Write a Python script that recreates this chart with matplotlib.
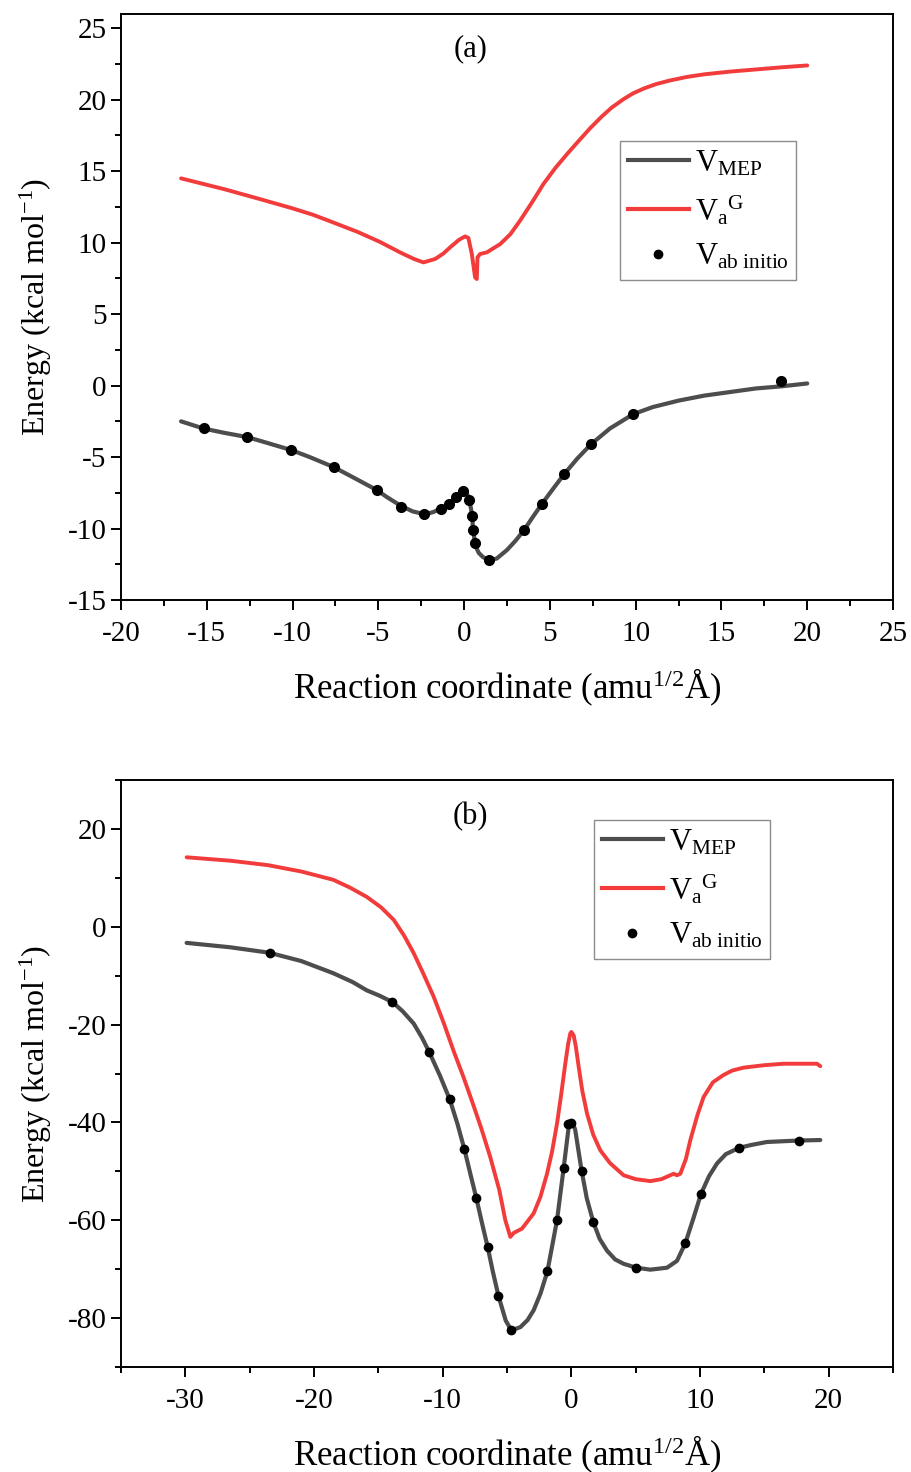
import matplotlib
matplotlib.use("Agg")
import matplotlib.pyplot as plt
from matplotlib.ticker import MultipleLocator
from matplotlib.lines import Line2D

plt.rcParams["font.family"] = ["Liberation Serif", "DejaVu Serif"]
plt.rcParams["mathtext.fontset"] = "custom"
plt.rcParams["mathtext.rm"] = "Liberation Serif"
plt.rcParams["mathtext.it"] = "Liberation Serif:italic"
plt.rcParams["mathtext.bf"] = "Liberation Serif:bold"
plt.rcParams["axes.unicode_minus"] = False

# ---------------- panel (a) ----------------
a_mep_s = [-16.5, -15.2, -14.0, -12.65, -11.5, -10.1, -9.0, -7.6, -6.5, -5.1,
           -4.5, -3.7, -3.0, -2.3, -1.8, -1.35, -0.87, -0.47, -0.2, 0.0,
           0.15, 0.3, 0.4, 0.47, 0.52, 0.6, 0.7, 0.85, 1.1, 1.46,
           1.9, 2.5, 3.0, 3.5, 4.0, 4.55, 5.2, 5.83, 6.6, 7.4,
           8.5, 9.85, 11.0, 12.5, 14.0, 15.5, 17.0, 18.5, 20.0]
a_mep_e = [-2.5, -3.0, -3.3, -3.6, -4.0, -4.5, -5.0, -5.7, -6.4, -7.3,
           -7.8, -8.4, -8.8, -9.0, -8.85, -8.6, -8.25, -7.8, -7.45, -7.4,
           -7.5, -8.0, -8.6, -9.1, -10.1, -10.7, -11.3, -11.7, -12.0, -12.2,
           -12.1, -11.5, -10.85, -10.1, -9.2, -8.25, -7.2, -6.2, -5.1, -4.1,
           -3.0, -2.0, -1.5, -1.05, -0.7, -0.45, -0.2, -0.05, 0.15]

a_vag_s = [-16.5, -14.0, -11.9, -10.0, -8.8, -7.6, -6.2, -4.9, -3.7, -2.9,
           -2.37, -1.69, -1.2, -0.82, -0.3, 0.06, 0.25, 0.45, 0.64, 0.74,
           0.78, 0.93, 1.32, 2.1, 2.7, 3.26, 4.0, 4.62, 5.3, 6.0,
           6.7, 7.34, 8.0, 8.6, 9.3, 9.85, 10.5, 11.2, 12.0, 13.0,
           14.0, 15.5, 17.0, 18.5, 20.0]
a_vag_e = [14.5, 13.75, 13.05, 12.4, 11.95, 11.4, 10.75, 10.05, 9.3, 8.85,
           8.62, 8.86, 9.25, 9.67, 10.2, 10.44, 10.33, 9.21, 7.57, 7.46,
           8.97, 9.21, 9.32, 9.9, 10.6, 11.54, 12.9, 14.1, 15.2, 16.2,
           17.15, 18.0, 18.8, 19.45, 20.05, 20.45, 20.8, 21.1, 21.35, 21.6,
           21.78, 21.97, 22.12, 22.27, 22.4]

a_abi_s = [-15.15, -12.65, -10.1, -7.6, -5.1, -3.7, -2.33, -1.35, -0.87, -0.47,
           -0.06, 0.3, 0.47, 0.52, 0.64, 1.46, 3.5, 4.55, 5.83, 7.4,
           9.85, 18.47]
a_abi_e = [-3.0, -3.6, -4.5, -5.7, -7.3, -8.5, -9.0, -8.6, -8.3, -7.8,
           -7.4, -8.0, -9.1, -10.1, -11.0, -12.2, -10.1, -8.25, -6.2, -4.1,
           -2.0, 0.3]

# ---------------- panel (b) ----------------
b_mep_s = [-29.9, -26.5, -23.5, -21.0, -18.5, -17.0, -15.9, -14.9, -13.9, -13.1,
           -12.25, -11.6, -11.03, -10.2, -9.45, -8.85, -8.31, -7.85, -7.38, -6.95,
           -6.5, -6.1, -5.67, -5.1, -4.66, -3.96, -3.4, -2.93, -2.4, -1.86,
           -1.11, -0.6, -0.2, 0.05, 0.3, 0.8, 1.2, 1.71, 2.2, 2.77,
           3.4, 4.06, 5.05, 6.14, 7.44, 8.21, 8.86, 9.5, 10.08, 10.7,
           11.32, 12.0, 13.03, 14.0, 15.2, 17.69, 19.35]
b_mep_e = [-3.3, -4.2, -5.3, -7.0, -9.5, -11.3, -13.0, -14.1, -15.4, -17.3,
           -19.8, -22.7, -25.7, -30.5, -35.3, -40.3, -45.5, -50.5, -55.5, -60.5,
           -65.5, -70.5, -75.4, -80.5, -82.5, -81.85, -80.4, -78.4, -75.0, -70.45,
           -59.95, -49.4, -40.8, -39.7, -41.5, -49.9, -55.5, -60.4, -63.8, -66.2,
           -68.0, -68.9, -69.7, -70.1, -69.7, -68.3, -64.7, -59.5, -54.6, -51.0,
           -48.4, -46.5, -45.2, -44.6, -44.0, -43.7, -43.6]

b_vag_s = [-29.9, -26.5, -23.6, -21.0, -18.5, -17.2, -15.9, -14.8, -13.8, -13.0,
           -12.25, -11.5, -10.7, -9.9, -9.15, -8.4, -7.7, -7.0, -6.3, -5.6,
           -5.13, -4.74, -4.48, -3.83, -2.93, -2.4, -1.89, -1.5, -1.11, -0.8,
           -0.47, -0.25, -0.08, 0.0, 0.18, 0.35, 0.57, 0.85, 1.22, 1.7,
           2.25, 3.0, 4.06, 5.0, 6.14, 7.0, 7.95, 8.21, 8.47, 8.9,
           9.25, 9.8, 10.28, 11.0, 11.83, 12.5, 13.39, 15.0, 16.5, 19.09,
           19.35]
b_vag_e = [14.2, 13.5, 12.6, 11.3, 9.6, 8.0, 6.1, 4.0, 1.4, -1.8,
           -5.4, -9.6, -14.3, -19.8, -25.4, -30.6, -35.8, -41.2, -47.1, -53.8,
           -60.0, -63.4, -62.6, -61.7, -58.6, -55.2, -50.5, -46.0, -40.2, -34.5,
           -28.0, -24.0, -21.8, -21.5, -22.2, -24.5, -28.6, -33.5, -38.2, -42.5,
           -45.7, -48.3, -50.8, -51.6, -52.0, -51.6, -50.5, -50.8, -50.5, -47.5,
           -43.6, -38.5, -34.8, -31.8, -30.3, -29.4, -28.8, -28.3, -28.0, -28.0,
           -28.5]

b_abi_s = [-23.45, -13.9, -11.03, -9.45, -8.31, -7.38, -6.5, -5.67, -4.66, -1.86,
           -1.11, -0.6, -0.25, 0.0, 0.8, 1.71, 5.05, 8.86, 10.08, 13.03,
           17.69]
b_abi_e = [-5.3, -15.3, -25.7, -35.3, -45.5, -55.5, -65.5, -75.4, -82.5, -70.45,
           -59.95, -49.4, -40.3, -40.1, -49.9, -60.4, -69.7, -64.7, -54.6, -45.2,
           -43.7]

MEP_COLOR = "#4d4d4d"
VAG_COLOR = "#f23c3c"

W, H = 911, 1472
fig = plt.figure(figsize=(W / 100, H / 100), dpi=100)


def px_axes(left, top, right, bottom):
    return fig.add_axes([left / W, 1 - bottom / H, (right - left) / W, (bottom - top) / H])


def style(ax):
    for sp in ax.spines.values():
        sp.set_linewidth(1.4)
    ax.tick_params(which="both", direction="out", top=False, right=False,
                   labelsize=21, width=1.4)
    ax.tick_params(which="major", length=7)
    ax.tick_params(axis="x", which="major", pad=8)
    ax.tick_params(which="minor", length=4)
    ax.set_xlabel("Reaction coordinate (amu$^{1/2}$Å)", fontsize=25, labelpad=14)
    ax.set_ylabel("Energy (kcal mol$^{\\mathrm{-1}}$)", fontsize=23, labelpad=10)


def legend(ax, anchor, dot_ms):
    handles = [
        Line2D([], [], color=MEP_COLOR, lw=3),
        Line2D([], [], color=VAG_COLOR, lw=3),
        Line2D([], [], color="black", lw=0, marker="o", markersize=dot_ms),
    ]
    labels = ["V$_{\\mathrm{MEP}}$", "V$_{\\mathrm{a}}{}^{\\mathrm{G}}$",
              "V$_{\\mathrm{ab\\ initio}}$"]
    leg = ax.legend(handles, labels, loc="upper left", bbox_to_anchor=anchor,
                    fontsize=22, frameon=True, fancybox=False, framealpha=1,
                    edgecolor="#8c8c8c", handlelength=2.0, handletextpad=0.2,
                    labelspacing=0.5, borderpad=0.25, borderaxespad=0)
    leg.get_frame().set_linewidth(1.0)


# panel (a)
ax1 = px_axes(121, 14, 893, 600)
ax1.plot(a_mep_s, a_mep_e, color=MEP_COLOR, lw=3, solid_capstyle="round",
         solid_joinstyle="round", zorder=2)
ax1.plot(a_vag_s, a_vag_e, color=VAG_COLOR, lw=2.8, solid_capstyle="round",
         solid_joinstyle="round", zorder=2)
ax1.plot(a_abi_s, a_abi_e, "o", color="black", markersize=7, lw=0, zorder=3)
ax1.set_xlim(-20, 25)
ax1.set_ylim(-15, 26)
ax1.xaxis.set_major_locator(MultipleLocator(5))
ax1.xaxis.set_minor_locator(MultipleLocator(2.5))
ax1.yaxis.set_major_locator(MultipleLocator(5))
ax1.yaxis.set_minor_locator(MultipleLocator(2.5))
style(ax1)
ax1.text(0.453, 0.94, "(a)", transform=ax1.transAxes, ha="center", va="center", fontsize=22)
legend(ax1, ((620 - 121) / 772, 1 - (141 - 14) / 586), 6)

# panel (b)
ax2 = px_axes(121, 780, 893, 1367)
ax2.plot(b_mep_s, b_mep_e, color=MEP_COLOR, lw=3, solid_capstyle="round",
         solid_joinstyle="round", zorder=2)
ax2.plot(b_vag_s, b_vag_e, color=VAG_COLOR, lw=2.8, solid_capstyle="round",
         solid_joinstyle="round", zorder=2)
ax2.plot(b_abi_s, b_abi_e, "o", color="black", markersize=6, lw=0, zorder=3)
ax2.set_xlim(-35, 25)
ax2.set_ylim(-90, 30)
ax2.xaxis.set_major_locator(MultipleLocator(10))
ax2.xaxis.set_minor_locator(MultipleLocator(5))
ax2.yaxis.set_major_locator(MultipleLocator(20))
ax2.yaxis.set_minor_locator(MultipleLocator(10))
style(ax2)
ax2.text(0.453, 0.937, "(b)", transform=ax2.transAxes, ha="center", va="center", fontsize=22)
legend(ax2, ((594 - 121) / 772, 1 - (820 - 780) / 587), 6)

fig.savefig("out.png", dpi=100)
